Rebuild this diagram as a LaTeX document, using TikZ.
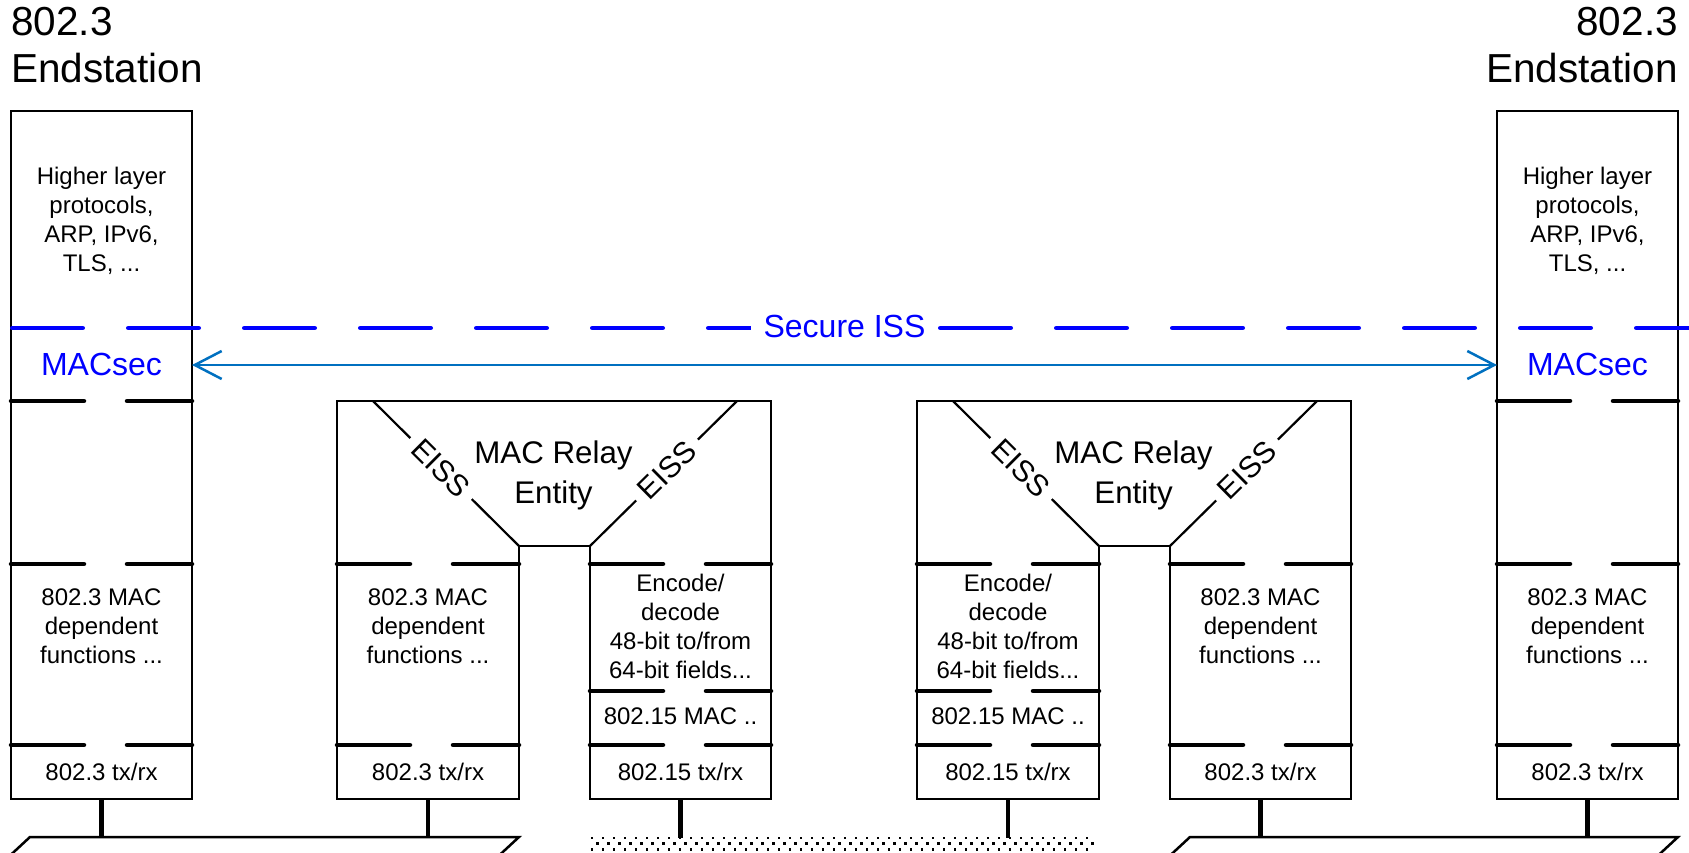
\documentclass[tikz,border=0pt]{standalone}
\usepackage{fontspec}
\setmainfont{Liberation Sans}
\usetikzlibrary{arrows.meta}
\definecolor{issblue}{RGB}{0,0,255}
\definecolor{linkblue}{RGB}{0,112,192}

% thick layer boundary with a gap: left stroke, gap, right stroke
\newcommand\layersep[3]{\draw[sep] (#1,#3) -- ({#1+73},#3) ({#1+116},#3) -- (#2,#3);}

\tikzset{
  frame/.style={line width=2.2pt},
  sep/.style={line width=4.5pt, line cap=round},
  stem/.style={line width=4.5pt},
  lan/.style={line width=2.5pt, line join=miter},
  txt/.style={font=\fontsize{24}{29}\selectfont, align=center, inner sep=0pt},
  title/.style={font=\fontsize{40.5}{47}\selectfont, inner sep=0pt},
  relaytxt/.style={font=\fontsize{31.3}{40}\selectfont, align=center, inner sep=0pt},
  eiss/.style={font=\fontsize{30}{36}\selectfont, fill=white, inner xsep=9pt, inner ysep=1pt, sloped},
  bluetxt/.style={font=\fontsize{32}{38}\selectfont, text=issblue, inner sep=0pt},
  secure/.style={draw=issblue, line width=4.5pt, line cap=round, dash pattern=on 70.5pt off 45.5pt},
  link/.style={draw=linkblue, line width=2.5pt,
    arrows={Straight Barb[length=27pt,width=28pt]-Straight Barb[length=27pt,width=28pt]}},
  endstation/.pic={
    \node[draw, frame, minimum width=181pt, minimum height=688pt, anchor=north west,
          inner sep=0pt, outer sep=0pt] (-box) at (0,0) {};
    \layersep{0}{181}{290}
    \layersep{0}{181}{453}
    \layersep{0}{181}{634}
    \node[txt] (-hl) at (90.5,109.5) {Higher layer\\protocols,\\ARP, IPv6,\\TLS, ...};
    \node[bluetxt] (-macsec) at (90.5,253) {MACsec};
    \node[txt] (-mac) at (90.5,515.5) {802.3 MAC\\dependent\\functions ...};
    \node[txt] (-phy) at (90.5,660.7) {802.3 tx/rx};
  },
  relay/.pic={
    \draw[frame] (0,398) -- (0,0) -- (434,0) -- (434,398) -- (253,398) -- (253,145)
                 -- (182,145) -- (182,398) -- cycle;
    \draw[frame] (36,0) -- node[eiss, pos=0.466] (-eissl) {EISS} (182,145);
    \draw[frame] (253,145) -- node[eiss, pos=0.524] (-eissr) {EISS} (400,0);
    \node[relaytxt] (-title) at (216.5,74) {MAC Relay\\Entity};
    \layersep{0}{182}{163}
    \layersep{0}{182}{344}
    \layersep{253}{434}{163}
    \layersep{253}{434}{344}
    \coordinate (-lc) at (91,398);
    \coordinate (-rc) at (343.5,398);
  }
}

\begin{document}
\begin{tikzpicture}[x=1pt,y=-1pt]
\useasboundingbox (0,0) rectangle (1689,853);
\clip (0,0) rectangle (1689,853);

% station titles
\node[title, anchor=base west] (tl1) at (11,36) {802.3};
\node[title, anchor=base west] (tl2) at (11,83) {Endstation};
\node[title, anchor=base east] (tr1) at (1678,36) {802.3};
\node[title, anchor=base east] (tr2) at (1678,83) {Endstation};

% stations and bridges
\pic (esl) at (11,111) {endstation};
\pic (esr) at (1497,111) {endstation};
\pic (r1) at (337,401) {relay};
\pic (r2) at (917,401) {relay};

% extra layer boundary in the 802.15 ports
\layersep{590}{771}{691}
\layersep{917}{1099}{691}

% bridge 1 port texts
\node[txt] (r1mac) at (428,626.5) {802.3 MAC\\dependent\\functions ...};
\node[txt] (r1phy) at (428,771.7) {802.3 tx/rx};
\node[txt] (r1enc) at (680.5,626.5) {Encode/\\decode\\48-bit to/from\\64-bit fields...};
\node[txt] (r1wmac) at (680.5,716.7) {802.15 MAC ..};
\node[txt] (r1wphy) at (680.5,771.7) {802.15 tx/rx};

% bridge 2 port texts
\node[txt] (r2enc) at (1008,626.5) {Encode/\\decode\\48-bit to/from\\64-bit fields...};
\node[txt] (r2wmac) at (1008,716.7) {802.15 MAC ..};
\node[txt] (r2wphy) at (1008,771.7) {802.15 tx/rx};
\node[txt] (r2mac) at (1260.5,626.5) {802.3 MAC\\dependent\\functions ...};
\node[txt] (r2phy) at (1260.5,771.7) {802.3 tx/rx};

% Secure ISS boundary
\draw[secure] (12.25,328) -- (1700,328);
\node[bluetxt, fill=white, inner xsep=12.5pt, inner ysep=2pt] (iss) at (844.5,326) {Secure ISS};

% MACsec association between the endstations
\coordinate (arrowy) at (0,365);
\draw[link] (esl-box.east |- arrowy) -- (esr-box.west |- arrowy);

% wired LANs
\coordinate (lanl) at (30,837);
\coordinate (lanr) at (1190,837);
\draw[lan] (-4.5,869) -- (lanl) -- (519,837) -- (484.5,869) -- cycle;
\draw[lan] (1155.5,869) -- (lanr) -- (1678,837) -- (1643.5,869) -- cycle;

% wireless medium
\coordinate (dotlan) at (590,838);
\foreach \r in {0,...,3}{
  \foreach \c in {0,...,45}{
    \fill ({590.5+\c*11+mod(\r,2)*5.5},{836.5+\r*5.7}) rectangle ++(2.9,2.9);
  }
}

% attachments
\draw[stem] (esl-box.south) -- (esl-box.south |- lanl);
\draw[stem] (r1-lc) -- (r1-lc |- lanl);
\draw[stem] (r1-rc) -- (r1-rc |- dotlan);
\draw[stem] (r2-lc) -- (r2-lc |- dotlan);
\draw[stem] (r2-rc) -- (r2-rc |- lanr);
\draw[stem] (esr-box.south) -- (esr-box.south |- lanr);
\end{tikzpicture}
\end{document}
